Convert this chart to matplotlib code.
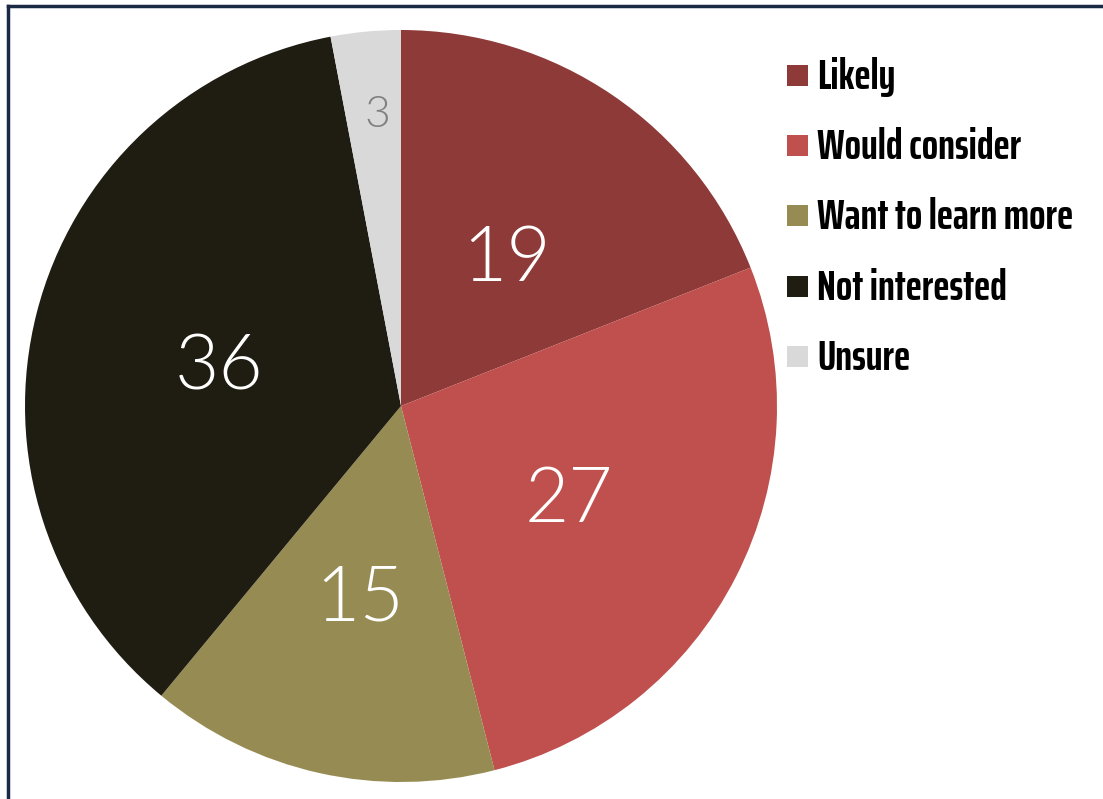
import numpy as np
import matplotlib.pyplot as plt
from matplotlib.patches import Rectangle
from matplotlib.lines import Line2D

categories = ['Likely', 'Would consider', 'Want to learn more', 'Not interested', 'Unsure']
values = [19, 27, 15, 36, 3]
colors = ['#8e3a38', '#c0504d', '#968c53', '#1f1c12', '#d9d9d9']
label_colors = ['white', 'white', 'white', 'white', '#808080']

W, H = 1103, 799
fig = plt.figure(figsize=(W / 100, H / 100), dpi=100)
fig.patch.set_facecolor('white')

# square axes so the pie sits at the left of the frame
cx, cy, r = 401, 393, 376
ax = fig.add_axes([(cx - r) / W, (cy - r) / H, 2 * r / W, 2 * r / H])
wedges, _ = ax.pie(values, colors=colors, startangle=90, counterclock=False,
                   radius=1, wedgeprops=dict(linewidth=0))
ax.set_xlim(-1, 1)
ax.set_ylim(-1, 1)
ax.set_aspect('equal')
ax.axis('off')

# value labels at the middle of each wedge, the thin slice pushed outward
for w, v, c in zip(wedges, values, label_colors):
    mid = np.deg2rad((w.theta1 + w.theta2) / 2)
    dist = 0.5 if v > 5 else 0.78
    size = 55 if v > 5 else 32
    ax.annotate(str(v), (dist * np.cos(mid), dist * np.sin(mid)),
                xytext=(0 if v > 5 else 3, -7 if v > 5 else -1), textcoords='offset points',
                color=c, fontsize=size, family='Lato', fontweight=300,
                ha='center', va='center')

# legend: colour squares with condensed bold labels
legend_font = dict(family='Saira ExtraCondensed', weight=700, size=31)
for i, (name, c) in enumerate(zip(categories, colors)):
    base = 89 + i * 70.2
    fig.add_artist(Rectangle((787 / W, 1 - (base - 3) / H), 21 / W, 21 / H,
                             transform=fig.transFigure, facecolor=c, edgecolor='none'))
    fig.text(817 / W, 1 - base / H, name, color='black', ha='left', va='baseline',
             **legend_font)

# outer frame on the left and top edges
fig.add_artist(Line2D([8 / W, 8 / W], [0, 1 - 6 / H], color='#1b2a44', linewidth=2.5))
fig.add_artist(Line2D([8 / W, 1], [1 - 6 / H, 1 - 6 / H], color='#1b2a44', linewidth=2.5))

fig.savefig('out.png', dpi=100)
